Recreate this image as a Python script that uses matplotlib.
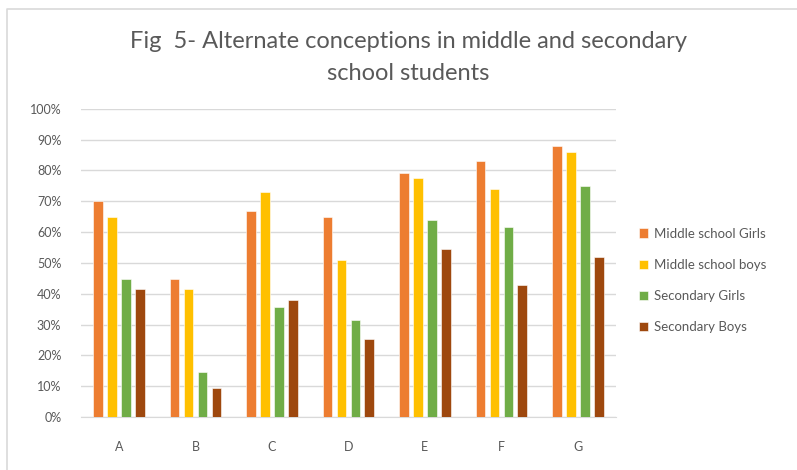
import matplotlib.pyplot as plt
import numpy as np
from matplotlib.lines import Line2D
from matplotlib.ticker import PercentFormatter

# --- data ---
categories = ["A", "B", "C", "D", "E", "F", "G"]
series_names = ["Middle school Girls", "Middle school boys", "Secondary Girls", "Secondary Boys"]
mid_girls = [70, 44.6, 66.7, 65, 79, 83, 88]
mid_boys = [65, 41.5, 73.1, 51, 77.6, 74, 86.1]
sec_girls = [44.6, 14.5, 35.7, 31.6, 64, 61.7, 75]
sec_boys = [41.5, 9.5, 37.8, 25.2, 54.6, 42.9, 51.8]
colors = ["#ED7D31", "#FFC000", "#70AD47", "#9E480E"]

plt.rcParams['font.family'] = ['Lato', 'DejaVu Sans']

fig = plt.figure(figsize=(7.97, 4.70), dpi=100)
ax = fig.add_axes([0.1013, 0.1128, 0.6717, 0.6559])

# chart border (only top and left edges show in the crop)
fig.lines.append(Line2D([7.5 / 797, 7.5 / 797, 1.0], [0.0, 1 - 9 / 470, 1 - 9 / 470],
                        transform=fig.transFigure, color="#D9D9D9", linewidth=1.2))

x = np.arange(len(categories))
step = 0.182
width = 0.126
all_series = [mid_girls, mid_boys, sec_girls, sec_boys]
for i, (vals, name, c) in enumerate(zip(all_series, series_names, colors)):
    ax.bar(x + (i - 1.5) * step, vals, width, color=c, label=name,
           edgecolor="white", linewidth=0.4, zorder=3)

ax.set_xlim(-0.5, 6.5)
ax.set_ylim(0, 100)
ax.set_yticks(range(0, 101, 10))
ax.yaxis.set_major_formatter(PercentFormatter(decimals=0))
ax.set_xticks(x)
ax.set_xticklabels(categories)
ax.grid(axis="y", color="#D9D9D9", linewidth=1, zorder=0)
for s in ["top", "right", "left"]:
    ax.spines[s].set_visible(False)
ax.spines["bottom"].set_color("#D9D9D9")
ax.tick_params(length=0, colors="#595959", labelsize=9)
ax.tick_params(axis="x", pad=17)
ax.tick_params(axis="y", pad=14)

fig.text(0.512, 0.911, "Fig  5- Alternate conceptions in middle and secondary",
         ha="center", va="center", fontsize=17, color="#595959")
fig.text(0.512, 0.843, "school students",
         ha="center", va="center", fontsize=17, color="#595959")

ax.legend(loc="center left", bbox_to_anchor=(1.02, 0.443), frameon=False,
          fontsize=9.5, labelcolor="#595959", handlelength=0.7, handleheight=0.7,
          handletextpad=0.5, labelspacing=1.45)

fig.savefig("out.png", dpi=100)
